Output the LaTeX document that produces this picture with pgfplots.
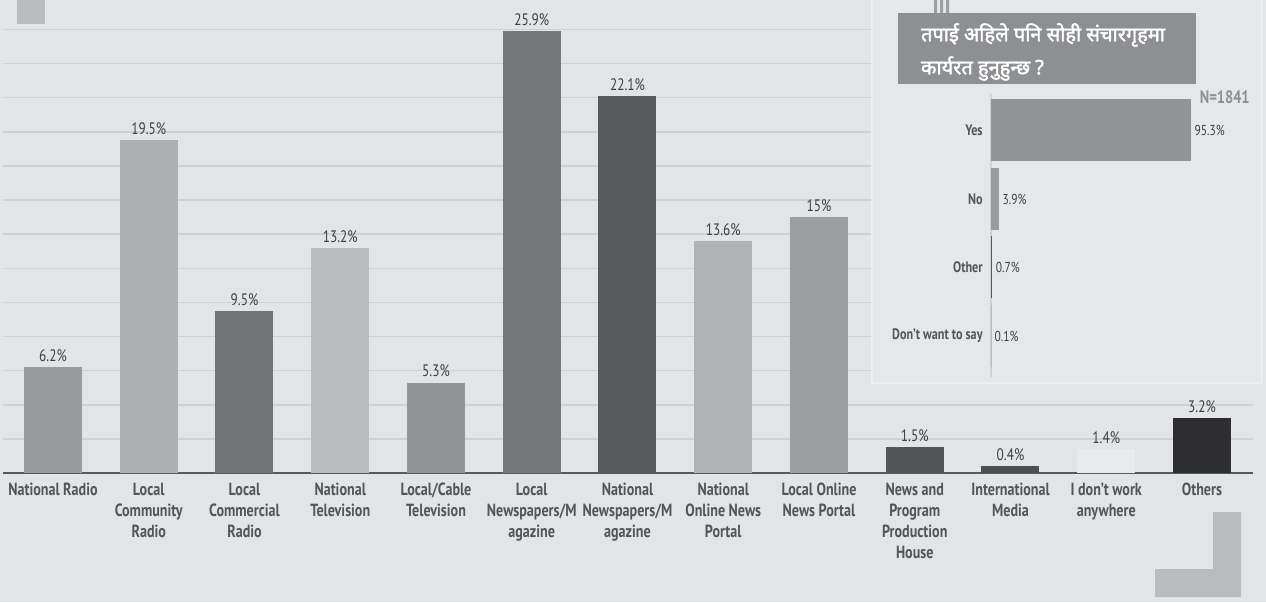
\documentclass[border=0pt]{standalone}
\usepackage{pgfplots}
\pgfplotsset{compat=1.18}
\usepackage{fontspec}
\setmainfont{PT Sans}[FakeStretch=0.8]
\newfontfamily\devfont[Script=Devanagari, FakeBold=2]{Noto Sans}

\definecolor{bg}{HTML}{E3E4E6}
\definecolor{panel}{HTML}{E6E7E9}
\definecolor{deco}{HTML}{BABBBE}
\definecolor{gridc}{HTML}{D0D1D3}
\definecolor{axisc}{HTML}{58595B}
\definecolor{labc}{HTML}{545557}
\definecolor{valc}{HTML}{3E3F41}
\definecolor{titlec}{HTML}{8E8F92}
\definecolor{cA}{HTML}{9A9B9E}
\definecolor{cB}{HTML}{AEAFB2}
\definecolor{cC}{HTML}{717275}
\definecolor{cD}{HTML}{B9BABD}
\definecolor{cE}{HTML}{939497}
\definecolor{cF}{HTML}{76777A}
\definecolor{cG}{HTML}{58595B}
\definecolor{cH}{HTML}{B0B1B3}
\definecolor{cI}{HTML}{9C9DA0}
\definecolor{cJ}{HTML}{545557}
\definecolor{cK}{HTML}{4D4E50}
\definecolor{cL}{HTML}{E9EAEC}
\definecolor{cM}{HTML}{2E2D2F}

\newcommand\catfont{\fontsize{8.8}{10.5}\selectfont\bfseries}
\newcommand\valfont{\fontsize{8.3}{9}\selectfont}

\begin{document}
\begin{tikzpicture}[x=0.5pt,y=0.5pt]
\fill[bg] (0,0) rectangle (1266,602);
\path[use as bounding box] (0,0) rectangle (1266,602);
% decorations
\fill[deco] (17,602) rectangle (45,578);
\fill[deco] (1213,90) -- (1241,90) -- (1241,5) -- (1155,5) -- (1155,33) -- (1213,33) -- cycle;

\begin{axis}[
    at={(26.5pt,64.5pt)}, anchor=origin,
    scale only axis, width=625pt, height=221.8pt,
    xmin=-0.522, xmax=12.533, ymin=0, ymax=26,
    /pgf/number format/assume math mode=true,
    separate axis lines,
    axis x line*=bottom, axis y line*=left,
    x axis line style={-, color=axisc, line width=1pt},
    y axis line style={draw=none},
    ytick={2,4,...,26}, yticklabels={}, ymajorgrids,
    grid style={gridc, line width=0.75pt},
    major tick length=0pt,
    xtick={0,...,12},
    xticklabels={National Radio, {Local\\Community\\Radio}, {Local\\Commercial\\Radio},
        {National\\Television}, {Local/Cable\\Television}, {Local\\Newspapers/M\\agazine},
        {National\\Newspapers/M\\agazine}, {National\\Online News\\Portal},
        {Local Online\\News Portal}, {News and\\Program\\Production\\House},
        {International\\Media}, {I don't work\\anywhere}, Others},
    xticklabel style={align=center, font=\catfont, text=labc, inner sep=1pt, yshift=-4pt},
    ybar, bar width=29pt, bar shift=0pt,
    every axis plot/.append style={draw=none},
    nodes near coords={\pgfmathprintnumber[fixed,precision=1]{\pgfplotspointmeta}\%},
    nodes near coords style={font=\valfont, text=valc, inner sep=2.5pt},
    clip=false,
]
\addplot[fill=cA] coordinates {(0,6.2)};
\addplot[fill=cB] coordinates {(1,19.5)};
\addplot[fill=cC] coordinates {(2,9.5)};
\addplot[fill=cD] coordinates {(3,13.2)};
\addplot[fill=cE] coordinates {(4,5.3)};
\addplot[fill=cF] coordinates {(5,25.9)};
\addplot[fill=cG] coordinates {(6,22.1)};
\addplot[fill=cH] coordinates {(7,13.6)};
\addplot[fill=cI] coordinates {(8,15)};
\addplot[fill=cJ] coordinates {(9,1.5)};
\addplot[fill=cK] coordinates {(10,0.4)};
\addplot[fill=cL] coordinates {(11,1.4)};
\addplot[fill=cM] coordinates {(12,3.2)};
\end{axis}

% inset panel
\fill[panel] (872,602) rectangle (1262,219);
\draw[white!30!panel, line width=1pt] (872,602) -- (872,219) -- (1262,219) -- (1262,602);
\fill[deco!85!black] (934,602) rectangle (937,589) (940,602) rectangle (943,589) (946,602) rectangle (949,589);
\fill[titlec] (898,589) rectangle (1196,518);
\node[anchor=west, text=white, align=left, font=\devfont\fontsize{10}{16.5}\selectfont]
    at (914,550) {तपाई अहिले पनि सोही संचारगृहमा\\कार्यरत हुनुहुन्छ ?};
\node[anchor=east, text=titlec, font=\fontsize{9}{10}\selectfont\bfseries, inner sep=0pt]
    at (1250,505) {N=1841};

\begin{axis}[
    at={(495.5pt,133pt)}, anchor=origin,
    scale only axis, width=105pt, height=141.5pt,
    xmin=0, xmax=100, ymin=-0.6, ymax=3.53,
    /pgf/number format/assume math mode=true,
    separate axis lines,
    axis y line*=left, axis x line*=bottom,
    x axis line style={draw=none},
    y axis line style={-, color=gridc, line width=0.9pt},
    major tick length=0pt,
    ytick={0,1,2,3},
    yticklabels={Don't want to say, Other, No, Yes},
    yticklabel style={font=\fontsize{7.6}{8}\selectfont\bfseries, text=labc, inner sep=1pt, xshift=-3pt},
    xtick=\empty,
    xbar, bar width=31pt, bar shift=0pt,
    every axis plot/.append style={draw=none},
    nodes near coords={\pgfmathprintnumber[fixed,precision=1]{\pgfplotspointmeta}\%},
    nodes near coords style={font=\fontsize{7.2}{8}\selectfont, text=valc, inner sep=1.5pt},
    clip=false,
]
\addplot[fill=cE] coordinates {(95.3,3)};
\addplot[fill=cA] coordinates {(3.9,2)};
\addplot[fill=cG] coordinates {(0.7,1)};
\addplot[fill=cD] coordinates {(0.1,0)};
\end{axis}
\end{tikzpicture}
\end{document}
